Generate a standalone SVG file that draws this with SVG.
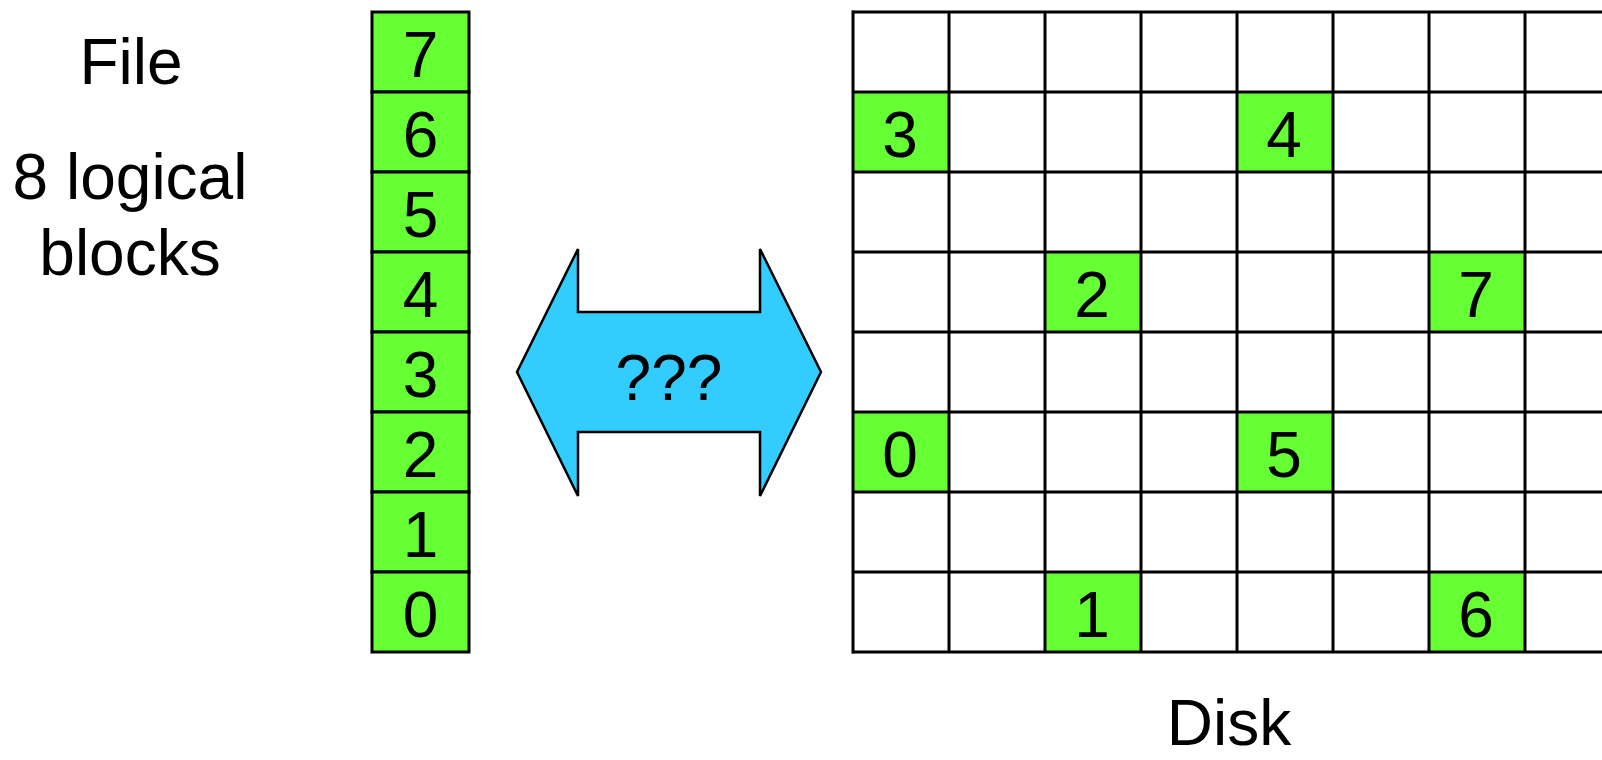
<svg xmlns="http://www.w3.org/2000/svg" width="1602" height="760" viewBox="0 0 1602 760">
<style>
.t{font-family:"Liberation Sans",Arial,sans-serif;font-size:64px;fill:#000;text-anchor:middle}
.g{fill:#66FF33;stroke:#000;stroke-width:3}
.c{fill:#66FF33}
.l{stroke:#000;stroke-width:3;fill:none}
</style>
<rect width="1602" height="760" fill="#fff"/>
<g id="labels">
<text class="t" x="131" y="84">File</text>
<text class="t" x="130" y="199">8 logical</text>
<text class="t" x="130" y="275">blocks</text>
<text class="t" x="1229" y="745">Disk</text>
</g>
<g id="file">
<rect class="g" x="372" y="12" width="97" height="80"/>
<rect class="g" x="372" y="92" width="97" height="80"/>
<rect class="g" x="372" y="172" width="97" height="80"/>
<rect class="g" x="372" y="252" width="97" height="80"/>
<rect class="g" x="372" y="332" width="97" height="80"/>
<rect class="g" x="372" y="412" width="97" height="80"/>
<rect class="g" x="372" y="492" width="97" height="80"/>
<rect class="g" x="372" y="572" width="97" height="80"/>
<text class="t" x="420.5" y="77">7</text>
<text class="t" x="420.5" y="157">6</text>
<text class="t" x="420.5" y="237">5</text>
<text class="t" x="420.5" y="317">4</text>
<text class="t" x="420.5" y="397">3</text>
<text class="t" x="420.5" y="477">2</text>
<text class="t" x="420.5" y="557">1</text>
<text class="t" x="420.5" y="637">0</text>
</g>
<g id="connectors">
<polygon points="517,372 578,249 578,312 760,312 760,249 821,372 760,496 760,432 578,432 578,496" fill="#33CCFF" stroke="#000" stroke-width="2.5" stroke-linejoin="miter"/>
<text class="t" x="669" y="400">???</text>
</g>
<g id="disk">
<rect class="c" x="852" y="92" width="96" height="80"/>
<rect class="c" x="1236" y="92" width="96" height="80"/>
<rect class="c" x="1044" y="252" width="96" height="80"/>
<rect class="c" x="1428" y="252" width="96" height="80"/>
<rect class="c" x="852" y="412" width="96" height="80"/>
<rect class="c" x="1236" y="412" width="96" height="80"/>
<rect class="c" x="1044" y="572" width="96" height="80"/>
<rect class="c" x="1428" y="572" width="96" height="80"/>
<path class="l" d="M852,12H1602M852,92H1602M852,172H1602M852,252H1602M852,332H1602M852,412H1602M852,492H1602M852,572H1602M852,652H1602"/>
<path class="l" d="M853,10.5V653.5M949,12V652M1045,12V652M1141,12V652M1237,12V652M1333,12V652M1429,12V652M1525,12V652"/>
<text class="t" x="900" y="157">3</text>
<text class="t" x="1284" y="157">4</text>
<text class="t" x="1092" y="317">2</text>
<text class="t" x="1476" y="317">7</text>
<text class="t" x="900" y="477">0</text>
<text class="t" x="1284" y="477">5</text>
<text class="t" x="1092" y="637">1</text>
<text class="t" x="1476" y="637">6</text>
</g>
</svg>
